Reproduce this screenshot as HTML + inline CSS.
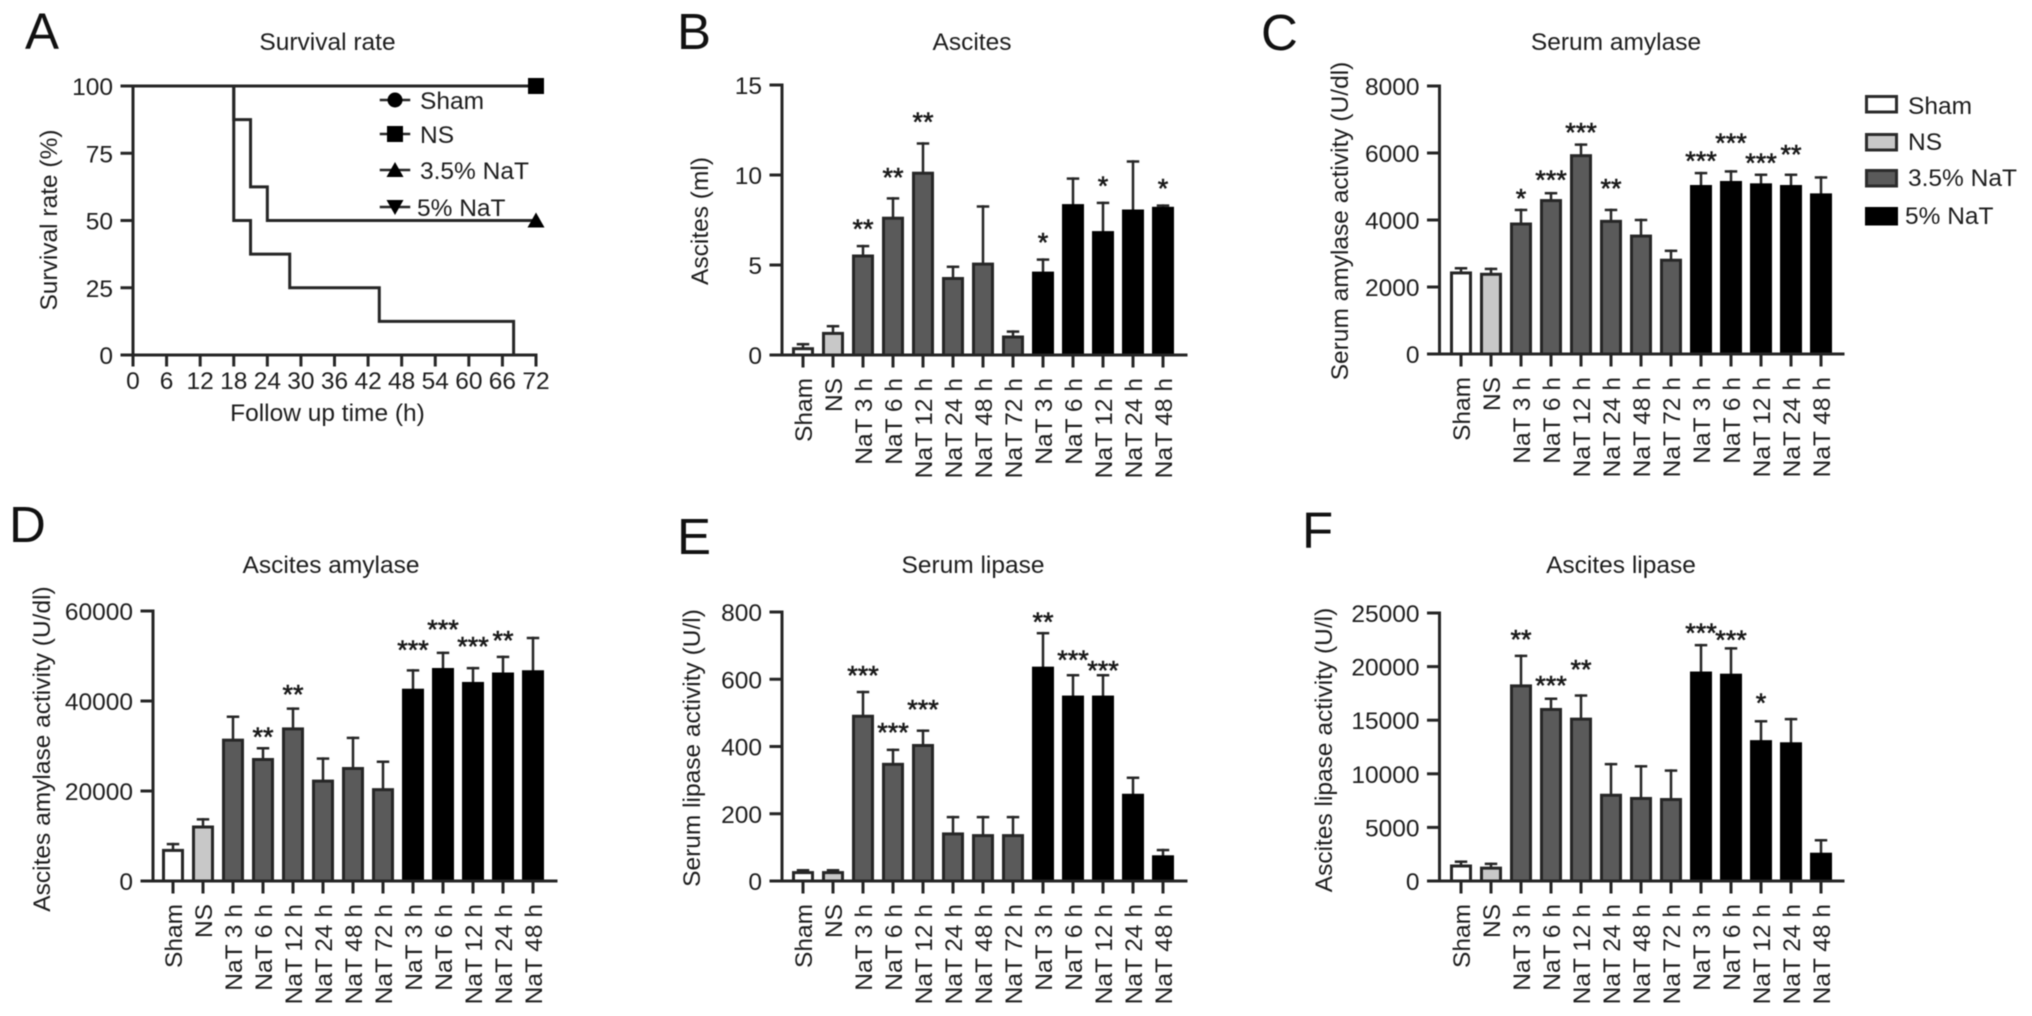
<!DOCTYPE html>
<html lang="en">
<head>
<meta charset="utf-8">
<title>NaT pancreatitis figure</title>
<style>
html,body{margin:0;padding:0;background:#fff;width:2032px;height:1016px;overflow:hidden}
svg{display:block;filter:blur(0.4px)}
text{font-family:"Liberation Sans",Arial,sans-serif;fill:#1d1d1d;font-size:24.5px}
.letter{font-size:51px;fill:#111}
</style>
</head>
<body>
<svg id="figure" xmlns="http://www.w3.org/2000/svg" width="2032" height="1016" viewBox="0 0 2032 1016">
  <rect width="2032" height="1016" fill="#fff"/>

  <text class="letter" x="25" y="49">A</text>
  <text class="letter" x="677" y="49">B</text>
  <text class="letter" x="1261" y="50">C</text>
  <text class="letter" x="9" y="542">D</text>
  <text class="letter" x="677" y="554">E</text>
  <text class="letter" x="1302" y="548">F</text>

  <text x="327.5" y="50" text-anchor="middle">Survival rate</text>
  <text x="972" y="50" text-anchor="middle">Ascites</text>
  <text x="1616" y="50" text-anchor="middle">Serum amylase</text>
  <text x="331" y="573" text-anchor="middle">Ascites amylase</text>
  <text x="973" y="573" text-anchor="middle">Serum lipase</text>
  <text x="1621" y="573" text-anchor="middle">Ascites lipase</text>

  <text transform="translate(57,220) rotate(-90)" text-anchor="middle">Survival rate (%)</text>
  <text transform="translate(708,221) rotate(-90)" text-anchor="middle">Ascites (ml)</text>
  <text transform="translate(1348,221) rotate(-90)" text-anchor="middle">Serum amylase activity (U/dl)</text>
  <text transform="translate(50,749) rotate(-90)" text-anchor="middle">Ascites amylase activity (U/dl)</text>
  <text transform="translate(700,748) rotate(-90)" text-anchor="middle">Serum lipase activity (U/l)</text>
  <text transform="translate(1332,750) rotate(-90)" text-anchor="middle">Ascites lipase activity (U/l)</text>
  <text x="327.5" y="421" text-anchor="middle">Follow up time (h)</text>

  <g>
    <rect x="1866.5" y="96.5" width="30" height="15.5" fill="#fff" stroke="#2b2b2b" stroke-width="3"/>
    <text x="1908" y="114">Sham</text>
    <rect x="1866.5" y="134.5" width="30" height="15.5" fill="#c8c8c8" stroke="#2b2b2b" stroke-width="3"/>
    <text x="1908" y="150">NS</text>
    <rect x="1866.5" y="170.5" width="30" height="15.5" fill="#5a5a5a" stroke="#2b2b2b" stroke-width="3"/>
    <text x="1908" y="186">3.5% NaT</text>
    <rect x="1866.5" y="208.5" width="30" height="15.5" fill="#000" stroke="#000" stroke-width="3"/>
    <text x="1905" y="224">5% NaT</text>
  </g>
</svg>
<script>
/* ---------- Panel A data ---------- */
const survivalYTicks = [0, 25, 50, 75, 100];
const survivalXTicks = [0, 6, 12, 18, 24, 30, 36, 42, 48, 54, 60, 66, 72];
const shamTimes = [0, 72];
const shamSurvival = [100, 100];
const nsTimes = [0, 72];
const nsSurvival = [100, 100];
const nat35Times = [0, 18, 21, 24, 72];
const nat35Survival = [100, 87.5, 62.5, 50, 50];
const nat5Times = [0, 18, 21, 28, 44, 68];
const nat5Survival = [100, 50, 37.5, 25, 12.5, 0];
const survivalLegend = ['Sham', 'NS', '3.5% NaT', '5% NaT'];

/* ---------- Bar panel data ---------- */
const groupLabels = ['Sham', 'NS', 'NaT 3 h', 'NaT 6 h', 'NaT 12 h', 'NaT 24 h', 'NaT 48 h', 'NaT 72 h', 'NaT 3 h', 'NaT 6 h', 'NaT 12 h', 'NaT 24 h', 'NaT 48 h'];

const ascitesTicks = [0, 5, 10, 15];
const ascitesMeans = [0.35, 1.2, 5.5, 7.6, 10.1, 4.25, 5.05, 1.0, 4.55, 8.3, 6.8, 8.0, 8.15];
const ascitesUpper = [0.6, 1.6, 6.05, 8.7, 11.75, 4.9, 8.25, 1.3, 5.3, 9.8, 8.45, 10.75, 8.3];
const ascitesStars = [0, 0, 2, 2, 2, 0, 0, 0, 1, 0, 1, 0, 1];
const ascitesStarLift = [0, 0, 1.2, 1.4, 1.45, 0, 0, 0, 1.2, 0, 1.2, 0, 1.2];

const serumAmylaseTicks = [0, 2000, 4000, 6000, 8000];
const serumAmylaseMeans = [2420, 2380, 3880, 4580, 5920, 3960, 3520, 2800, 5000, 5120, 5050, 5000, 4750];
const serumAmylaseUpper = [2560, 2540, 4300, 4800, 6250, 4300, 4000, 3080, 5400, 5450, 5350, 5350, 5270];
const serumAmylaseStars = [0, 0, 1, 3, 3, 2, 0, 0, 3, 3, 3, 2, 0];
const serumAmylaseStarLift = [0, 0, 480, 530, 500, 770, 0, 0, 500, 980, 480, 740, 0];

const ascitesAmylaseTicks = [0, 20000, 40000, 60000];
const ascitesAmylaseMeans = [6800, 12000, 31300, 27000, 33800, 22200, 25000, 20300, 42400, 47000, 43900, 46000, 46500];
const ascitesAmylaseUpper = [8200, 13700, 36500, 29500, 38300, 27200, 31800, 26500, 46800, 50700, 47300, 49800, 54000];
const ascitesAmylaseStars = [0, 0, 0, 2, 2, 0, 0, 0, 3, 3, 3, 2, 0];
const ascitesAmylaseStarLift = [0, 0, 0, 3500, 4200, 0, 0, 0, 5500, 6200, 5800, 4600, 0];

const serumLipaseTicks = [0, 200, 400, 600, 800];
const serumLipaseMeans = [25, 25, 490, 347, 403, 140, 135, 135, 633, 547, 547, 255, 72];
const serumLipaseUpper = [32, 32, 562, 390, 447, 190, 190, 190, 737, 612, 612, 307, 92];
const serumLipaseStars = [0, 0, 3, 3, 3, 0, 0, 0, 2, 3, 3, 0, 0];
const serumLipaseStarLift = [0, 0, 62, 65, 77, 0, 0, 0, 47, 59, 27, 0, 0];

const ascitesLipaseTicks = [0, 5000, 10000, 15000, 20000, 25000];
const ascitesLipaseMeans = [1400, 1200, 18200, 16000, 15100, 8000, 7700, 7600, 19400, 19200, 13000, 12800, 2500];
const ascitesLipaseUpper = [1800, 1600, 21000, 17000, 17300, 10900, 10700, 10300, 22000, 21700, 14900, 15100, 3800];
const ascitesLipaseStars = [0, 0, 2, 3, 2, 0, 0, 0, 3, 3, 1, 0, 0];
const ascitesLipaseStarLift = [0, 0, 1950, 1670, 2870, 0, 0, 0, 1570, 1200, 2130, 0, 0];

/* ---------- Drawing ---------- */
const SVG_NS = 'http://www.w3.org/2000/svg';
const INK = '#262626';
const figure = document.getElementById('figure');

function add(parent, tag, attrs, text) {
  const el = document.createElementNS(SVG_NS, tag);
  for (const k in attrs) el.setAttribute(k, attrs[k]);
  if (text !== undefined) el.textContent = text;
  parent.appendChild(el);
  return el;
}
function line(parent, x1, y1, x2, y2, w, color) {
  return add(parent, 'line', {x1: x1, y1: y1, x2: x2, y2: y2, stroke: color || INK, 'stroke-width': w || 3, 'stroke-linecap': 'square'});
}
function groupFill(i) {
  if (i === 0) return '#ffffff';
  if (i === 1) return '#c8c8c8';
  if (i < 8) return '#5a5a5a';
  return '#000000';
}

function drawYAxis(g, axisX, yScale, ticks, yTop, yBottom) {
  const spine = line(g, axisX, yTop, axisX, yBottom);
  
  
  ticks.forEach(function (t) {
    const y = yScale(t);
    const tick = line(g, axisX - 11, y, axisX, y);
    
    
    const label = add(g, 'text', {x: axisX - 20, y: y + 9, 'text-anchor': 'end'}, String(t));
    
    
  });
}

function drawBarPanel(key, geom, ticks, means, upper, stars, lifts) {
  const g = add(figure, 'g', {});
  
  
  const yMax = ticks[ticks.length - 1];
  const yScale = function (v) { return geom.y0 - (v / yMax) * (geom.y0 - geom.yTop); };
  const xScale = function (i) { return geom.first + i * geom.step; };

  means.forEach(function (m, i) {
    const cx = xScale(i);
    const errLine = line(g, cx, yScale(upper[i]), cx, yScale(m), 2.5);
    
    
    const errCap = line(g, cx - 5, yScale(upper[i]), cx + 5, yScale(upper[i]), 2.5);
    
    
    const top = yScale(m);
    const bar = add(g, 'rect', {x: cx - 9.5, y: top, width: 19, height: Math.max(geom.y0 - top, 0), fill: groupFill(i), stroke: i < 8 ? INK : '#000', 'stroke-width': 3});
    
    
    if (stars[i] > 0) {
      const starY = yScale(upper[i] + lifts[i]);
      const mark = add(g, 'text', {x: cx, y: starY + 13.5, 'text-anchor': 'middle', style: 'font-size:27px;fill:#1a1a1a;stroke:#1a1a1a;stroke-width:.6px'}, '*'.repeat(stars[i]));
      
      
    }
    const tick = line(g, cx, geom.y0, cx, geom.y0 + 11);
    
    
    const label = add(g, 'text', {transform: 'translate(' + (cx + 9) + ',' + (geom.y0 + 23) + ') rotate(-90)', 'text-anchor': 'end'}, groupLabels[i]);
    
    
  });

  const xAxis = line(g, geom.axisX, geom.y0, geom.xEnd, geom.y0);
  
  
  drawYAxis(g, geom.axisX, yScale, ticks, geom.yTop, geom.y0);
}

function drawSurvival() {
  const g = add(figure, 'g', {});
  
  
  const axisX = 133, xRight = 536, yTop = 86, y0 = 355;
  const xScale = function (t) { return axisX + (t / 72) * (xRight - axisX); };
  const yScale = function (s) { return y0 - (s / 100) * (y0 - yTop); };

  function stepPath(times, values) {
    let d = 'M' + xScale(times[0]) + ' ' + yScale(values[0]);
    for (let i = 1; i < times.length; i++) {
      d += ' H' + xScale(times[i]) + ' V' + yScale(values[i]);
    }
    return d;
  }
  const lineSham = add(g, 'path', {d: stepPath(shamTimes, shamSurvival), fill: 'none', stroke: INK, 'stroke-width': 3});
  
  
  const lineNs = add(g, 'path', {d: stepPath(nsTimes, nsSurvival), fill: 'none', stroke: INK, 'stroke-width': 3});
  
  
  const line35 = add(g, 'path', {d: stepPath(nat35Times, nat35Survival), fill: 'none', stroke: INK, 'stroke-width': 3});
  
  
  const line5 = add(g, 'path', {d: stepPath(nat5Times, nat5Survival), fill: 'none', stroke: INK, 'stroke-width': 3});
  
  

  function marker(kind, cx, cy) {
    if (kind === 0) return add(g, 'circle', {cx: cx, cy: cy, r: 7.5, fill: '#000'});
    if (kind === 1) return add(g, 'rect', {x: cx - 8, y: cy - 8, width: 16, height: 16, fill: '#000'});
    if (kind === 2) return add(g, 'polygon', {points: (cx - 8.5) + ',' + (cy + 7) + ' ' + (cx + 8.5) + ',' + (cy + 7) + ' ' + cx + ',' + (cy - 8), fill: '#000'});
    return add(g, 'polygon', {points: (cx - 8.5) + ',' + (cy - 7) + ' ' + (cx + 8.5) + ',' + (cy - 7) + ' ' + cx + ',' + (cy + 8), fill: '#000'});
  }
  const endNs = marker(1, xScale(nsTimes[nsTimes.length - 1]), yScale(nsSurvival[nsSurvival.length - 1]));
  
  
  const end35 = marker(2, xScale(nat35Times[nat35Times.length - 1]), yScale(nat35Survival[nat35Survival.length - 1]));
  
  

  const legendRows = [100, 134, 170, 207];
  survivalLegend.forEach(function (name, i) {
    const ly = legendRows[i];
    const sample = line(g, 381, ly, 409, ly, 2.5);
    
    
    const m = marker(i, 395, ly);
    
    
    const t = add(g, 'text', {x: i === 3 ? 417 : 420, y: ly + 9}, name);
    
    
  });

  const xAxis = line(g, axisX, y0, xRight, y0);
  
  
  survivalXTicks.forEach(function (t) {
    const x = xScale(t);
    const tick = line(g, x, y0, x, y0 + 10);
    
    
    const label = add(g, 'text', {x: x, y: 389, 'text-anchor': 'middle'}, String(t));
    
    
  });
  drawYAxis(g, axisX, yScale, survivalYTicks, yTop, y0);
}

drawSurvival();
drawBarPanel('ascites', {axisX: 782, xEnd: 1186, y0: 355, yTop: 85, first: 803, step: 30}, ascitesTicks, ascitesMeans, ascitesUpper, ascitesStars, ascitesStarLift);
drawBarPanel('serum-amylase', {axisX: 1439.5, xEnd: 1843, y0: 354, yTop: 86, first: 1461, step: 30}, serumAmylaseTicks, serumAmylaseMeans, serumAmylaseUpper, serumAmylaseStars, serumAmylaseStarLift);
drawBarPanel('ascites-amylase', {axisX: 153, xEnd: 556, y0: 881, yTop: 611, first: 173, step: 30}, ascitesAmylaseTicks, ascitesAmylaseMeans, ascitesAmylaseUpper, ascitesAmylaseStars, ascitesAmylaseStarLift);
drawBarPanel('serum-lipase', {axisX: 782, xEnd: 1186, y0: 881, yTop: 612, first: 803, step: 30}, serumLipaseTicks, serumLipaseMeans, serumLipaseUpper, serumLipaseStars, serumLipaseStarLift);
drawBarPanel('ascites-lipase', {axisX: 1439.5, xEnd: 1843, y0: 881, yTop: 613, first: 1461, step: 30}, ascitesLipaseTicks, ascitesLipaseMeans, ascitesLipaseUpper, ascitesLipaseStars, ascitesLipaseStarLift);
</script>
</body>
</html>
